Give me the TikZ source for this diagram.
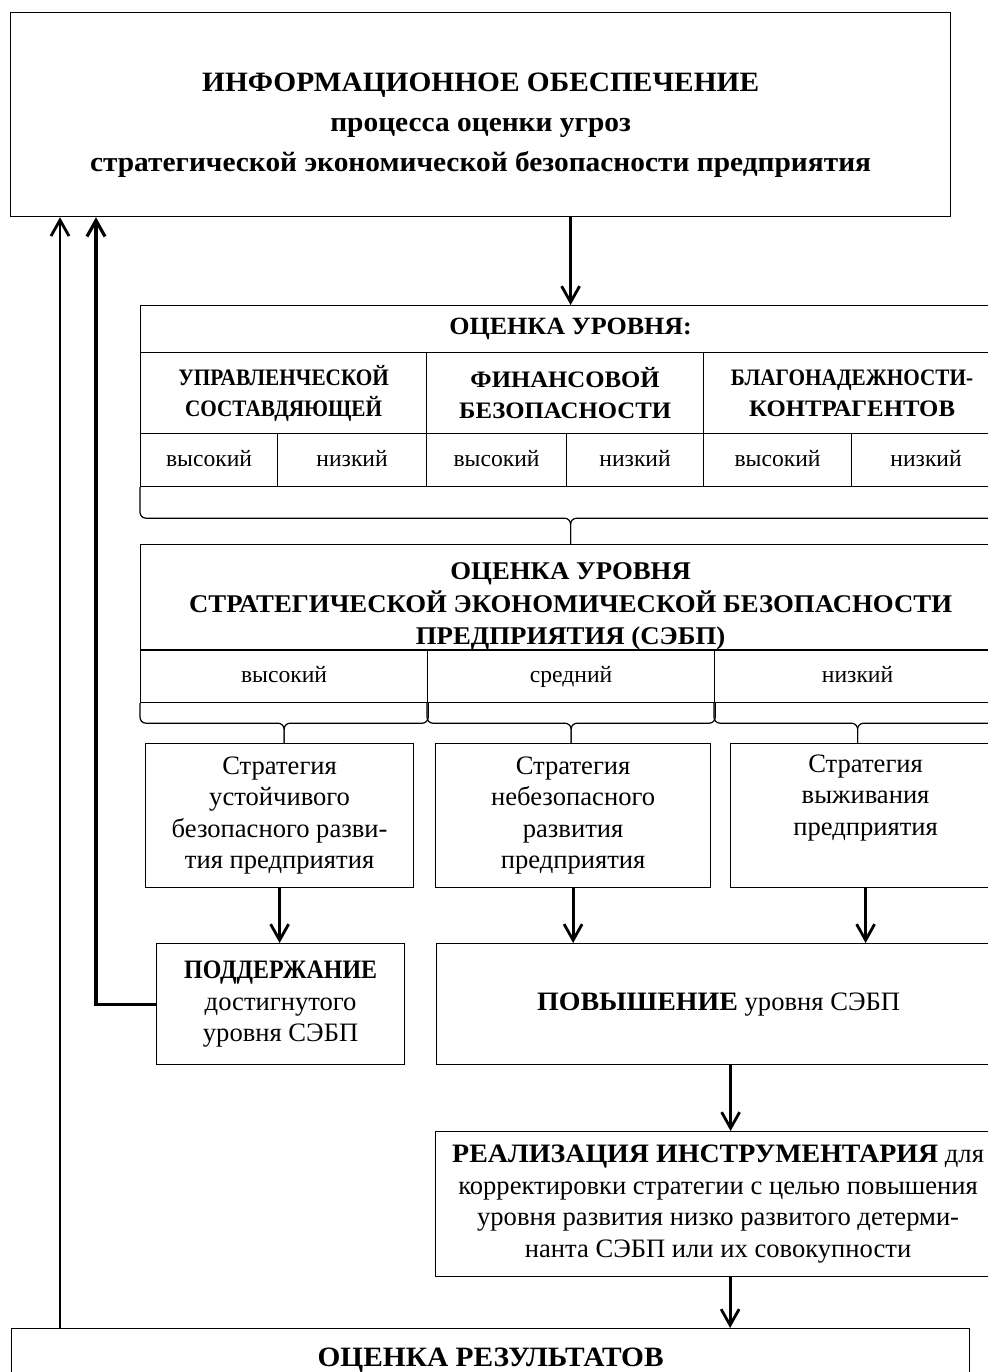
\documentclass[tikz,border=0pt]{standalone}
\usepackage{fontspec}
\setmainfont{Liberation Serif}[BoldFeatures={FakeStretch=1.05}]
\newfontfamily\narrow{Liberation Serif}[FakeStretch=0.9]
\usetikzlibrary{arrows.meta, calc}

\begin{document}
\begin{tikzpicture}[x=0.5pt, y=-0.5pt, >={Straight Barb[length=8pt,width=9pt]},
    box/.style={draw, line width=0.6pt, align=center, inner sep=0pt, anchor=north west},
    cell/.style={box, font=\fontsize{11.8}{14}\selectfont, minimum height=26.5pt, text height=8.5pt, text depth=2.5pt},
    arr/.style={->, line width=1.4pt},
    bracel/.style={line width=0.6pt, rounded corners=3pt},
    big/.style={font=\fontsize{14}{20}\selectfont\bfseries},
    head/.style={font=\fontsize{11.8}{15.5}\selectfont\bfseries},
    txt/.style={font=\fontsize{13.3}{15.8}\selectfont}]
     \path[use as bounding box, clip] (0,0) rectangle (988,1372);

     \node[box, big, minimum width=470pt, minimum height=102pt] (info) at (10,12)
          {\rule{0pt}{20pt}ИНФОРМАЦИОННОЕ ОБЕСПЕЧЕНИЕ\\ процесса оценки угроз\\ стратегической экономической безопасности предприятия};

     % table of levels
     \node[box, head, font=\fontsize{12.4}{15}\selectfont\bfseries, minimum width=430pt, minimum height=23.5pt] (lvl) at (140,305) {ОЦЕНКА УРОВНЯ:};
     \node[box, head, minimum width=143pt, minimum height=40.5pt]   (upr)  at (140,352) {{\narrow УПРАВЛЕНЧЕСКОЙ}\\ {\narrow СОСТАВДЯЮЩЕЙ}};
     \node[box, head, minimum width=138.5pt, minimum height=40.5pt] (fin)  at (426,352) {ФИНАНСОВОЙ\\ БЕЗОПАСНОСТИ};
     \node[box, head, minimum width=148.5pt, minimum height=40.5pt] (blag) at (703,352) {{\narrow БЛАГОНАДЕЖНОСТИ-}\\ КОНТРАГЕНТОВ};
     \node[cell, minimum width=68.5pt] (upr-h)  at (140,433) {высокий};
     \node[cell, minimum width=74.5pt] (upr-l)  at (277,433) {низкий};
     \node[cell, minimum width=70pt]   (fin-h)  at (426,433) {высокий};
     \node[cell, minimum width=68.5pt] (fin-l)  at (566,433) {низкий};
     \node[cell, minimum width=74pt]   (blag-h) at (703,433) {высокий};
     \node[cell, minimum width=74.5pt] (blag-l) at (851,433) {низкий};

     \node[box, font=\fontsize{12.75}{16.25}\selectfont\bfseries, minimum width=430pt, minimum height=52.5pt] (sebp) at (140,544)
          {\rule{0pt}{17.5pt}ОЦЕНКА УРОВНЯ\\ СТРАТЕГИЧЕСКОЙ ЭКОНОМИЧЕСКОЙ БЕЗОПАСНОСТИ\\ ПРЕДПРИЯТИЯ (СЭБП)};
     \node[cell, minimum width=143.5pt] (sebp-h) at (140,649) {высокий};
     \node[cell, minimum width=143.5pt] (sebp-m) at (427,649) {средний};
     \node[cell, minimum width=143pt]   (sebp-l) at (714,649) {низкий};

     % strategies
     \node[box, txt, minimum width=134pt,   minimum height=72pt] (str1) at (145,743) {Стратегия\\ устойчивого\\ безопасного разви-\\ тия предприятия};
     \node[box, txt, minimum width=137.5pt, minimum height=72pt] (str2) at (435,743) {Стратегия\\ небезопасного\\ развития\\ предприятия};
     \node[box, txt, minimum width=135pt,   minimum height=72pt] (str3) at (730,743) {Стратегия\\ выживания\\ предприятия\\ \strut};

     \node[box, txt, minimum width=124pt, minimum height=60.5pt] (podd)   at (156,943) {{\narrow\bfseries ПОДДЕРЖАНИЕ}\\ достигнутого\\ уровня СЭБП};
     \node[box, txt, minimum width=282pt, minimum height=60.5pt] (povysh) at (436,943) {\textbf{ПОВЫШЕНИЕ} уровня СЭБП};
     \node[box, txt, minimum width=282.5pt, minimum height=72.5pt] (real) at (435,1131)
          {\textbf{РЕАЛИЗАЦИЯ ИНСТРУМЕНТАРИЯ} для\\ корректировки стратегии с целью повышения\\ уровня развития низко развитого детерми-\\ нанта СЭБП или их совокупности};
     \node[box, big, minimum width=479pt, minimum height=32pt] (res) at (11,1328) {ОЦЕНКА РЕЗУЛЬТАТОВ};

     % braces
     \draw[bracel] (upr-h.south west) -- ++(0,31) -| (sebp.north);
     \draw[bracel] (blag-l.south east) -- ++(0,31) -| (sebp.north);
     \draw[bracel] (sebp-h.south west) -- ++(0,20) -| (sebp-h.south |- str1.north);
     \draw[bracel] (sebp-h.south east) -- ++(0,20) -| (sebp-h.south |- str1.north);
     \draw[bracel] (sebp-m.south west) -- ++(0,20) -| (sebp-m.south |- str2.north);
     \draw[bracel] (sebp-m.south east) -- ++(0,20) -| (sebp-m.south |- str2.north);
     \draw[bracel] (sebp-l.south west) -- ++(0,20) -| (sebp-l.south |- str3.north);
     \draw[bracel] (sebp-l.south east) -- ++(0,20) -| (sebp-l.south |- str3.north);

     % arrows
     \draw[arr] (lvl.north |- info.south) -- (lvl.north);
     \draw[arr] (str1.south) -- (str1.south |- podd.north);
     \draw[arr] (str2.south) -- (str2.south |- povysh.north);
     \draw[arr] (str3.south) -- (str3.south |- povysh.north);
     \draw[arr] ([xshift=6pt]povysh.south) -- ([xshift=6pt]povysh.south |- real.north);
     \draw[arr] ([xshift=6pt]real.south) -- ([xshift=6pt]real.south |- res.north);
     \draw[arr] ([xshift=24.5pt]res.north west) -- ([xshift=24.5pt]res.north west |- info.south);
     \draw[arr, line width=1.6pt] (podd.west) -| ([xshift=43pt]info.south west);
\end{tikzpicture}
\end{document}
